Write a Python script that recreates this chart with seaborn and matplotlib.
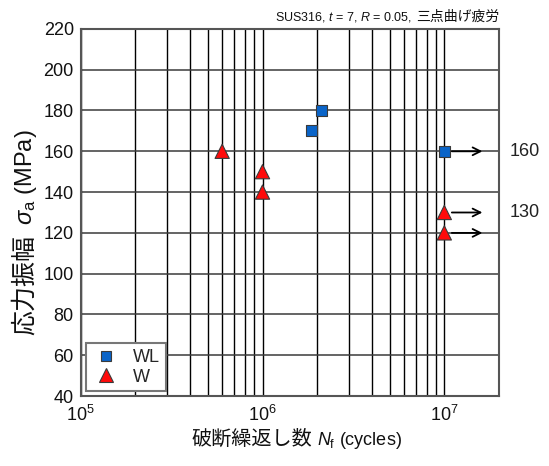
import matplotlib
matplotlib.use("Agg")
import matplotlib.pyplot as plt
import matplotlib.transforms as mtransforms
from matplotlib.lines import Line2D
from matplotlib.ticker import LogLocator, NullFormatter, MultipleLocator
import numpy as np
import pandas as pd
import seaborn as sns

# Fatigue test results (cycles to failure, stress amplitude)
wl_cycles = [1.85e6, 2.12e6, 1.0e7]
wl_stress = [170, 180, 160]
wl_runout = [False, False, True]

w_cycles = [6.0e5, 1.0e6, 1.0e6, 1.0e7, 1.0e7]
w_stress = [160, 150, 140, 130, 120]
w_runout = [False, False, False, True, True]

series_names = ["WL", "W"]
runout_labels = [160, 130]

sns.set_theme(style="white")
plt.rcParams["font.family"] = ["Liberation Sans", "Noto Sans CJK JP", "DejaVu Sans"]
plt.rcParams["mathtext.fontset"] = "custom"
plt.rcParams["mathtext.rm"] = "Liberation Sans"
plt.rcParams["mathtext.it"] = "Liberation Sans:italic"
plt.rcParams["mathtext.bf"] = "Liberation Sans:bold"
plt.rcParams["axes.unicode_minus"] = False

TXT = "#111111"
FS = 13

df = pd.DataFrame({
    "cycles": wl_cycles + w_cycles,
    "stress": wl_stress + w_stress,
    "runout": wl_runout + w_runout,
    "series": [series_names[0]] * len(wl_cycles) + [series_names[1]] * len(w_cycles),
})

fig = plt.figure(figsize=(5.49, 4.66), dpi=100)
ax = fig.add_axes([0.147, 0.150, 0.762, 0.788])

ax.set_xscale("log")
ax.set_xlim(1e5, 2e7)
ax.set_ylim(40, 220)

# grid: decades and sub-decades in x, every 20 MPa in y
ax.xaxis.set_major_locator(LogLocator(base=10, numticks=10))
ax.xaxis.set_minor_locator(LogLocator(base=10, subs=np.arange(2, 10), numticks=20))
ax.xaxis.set_minor_formatter(NullFormatter())
ax.yaxis.set_major_locator(MultipleLocator(20))
ax.grid(True, which="major", axis="x", color="black", lw=1.0)
ax.grid(True, which="minor", axis="x", color="black", lw=1.0)
ax.grid(True, which="major", axis="y", color="#3a3a3a", lw=1.1)
ax.set_axisbelow(True)

colors = {"WL": "#0a64c8", "W": "#ff0a0a"}
sns.scatterplot(
    data=df, x="cycles", y="stress", hue="series", style="series",
    hue_order=series_names, style_order=series_names,
    palette=colors,
    markers={"WL": "s", "W": "^"},
    size="series", sizes={"WL": 62, "W": 105},
    edgecolor="#3a3a3a", linewidth=0.8, ax=ax, zorder=5, legend=False,
)

# run-out arrows
for c, s in zip(df.loc[df.runout, "cycles"], df.loc[df.runout, "stress"]):
    ax.annotate("", xy=(c * 1.62, s), xytext=(c * 1.1, s),
                arrowprops=dict(arrowstyle="->", color="black", lw=1.3,
                                mutation_scale=14, shrinkA=0, shrinkB=0),
                zorder=6)

trans = mtransforms.blended_transform_factory(ax.transAxes, ax.transData)
for v in runout_labels:
    ax.text(1.026, v, f"{v}", transform=trans, ha="left", va="center",
            fontsize=FS, color="#222222", clip_on=False)

# legend
handles = [
    Line2D([], [], ls="none", marker="s", ms=7.9, mfc=colors["WL"], mec="#3a3a3a", mew=0.8),
    Line2D([], [], ls="none", marker="^", ms=10.2, mfc=colors["W"], mec="#3a3a3a", mew=0.8),
]
leg = ax.legend(handles, series_names, loc="lower left", bbox_to_anchor=(0.013, 0.014),
                borderaxespad=0, fancybox=False, framealpha=1, edgecolor="#777777",
                fontsize=FS, handletextpad=0.7, borderpad=0.3, labelspacing=0.15,
                handlelength=1.6)
leg.get_frame().set_linewidth(1.5)
leg.set_zorder(10)

for sp in ax.spines.values():
    sp.set_color("#555555")
    sp.set_linewidth(1.5)

ax.tick_params(axis="both", which="major", direction="in", length=5, width=1.2,
               color="#333333", labelsize=FS, labelcolor=TXT)
ax.tick_params(axis="y", which="major", pad=5)
ax.tick_params(axis="x", which="major", pad=6)
ax.tick_params(axis="x", which="minor", direction="in", length=0)
ax.set_xlabel("")
ax.set_ylabel("")

# x-axis label: Japanese part, then the symbol part on the same baseline
x_base = 0.045
xl_jp = fig.text(0.568, x_base, "破断繰返し数", ha="right", va="baseline",
                 fontsize=14.5, color=TXT)
ax.annotate("$N_\\mathrm{f}$ (cycles)", xy=(1, x_base), xycoords=(xl_jp, "figure fraction"),
            xytext=(4, 0), textcoords="offset points", ha="left", va="baseline",
            fontsize=FS, color=TXT, annotation_clip=False)

# y-axis label, written upward along a shared baseline
y_base = 0.0574
yl_jp = fig.text(y_base, 0.281, "応力振幅", rotation=90, rotation_mode="anchor",
                 ha="left", va="baseline", fontsize=18, color=TXT)
ax.annotate("$\\sigma_\\mathrm{a}$ (MPa)", xy=(y_base, 1), xycoords=("figure fraction", yl_jp),
            xytext=(0, 7), textcoords="offset points", rotation=90, rotation_mode="anchor",
            ha="left", va="baseline", fontsize=17, color=TXT, annotation_clip=False)

# test condition note above the plot
t_jp = ax.text(1.0, 1.022, "三点曲げ疲労", transform=ax.transAxes, ha="right",
               va="baseline", fontsize=10, color=TXT)
ax.annotate("SUS316, $t$ = 7, $R$ = 0.05,", xy=(0, 1.022), xycoords=(t_jp, "axes fraction"),
            xytext=(-3, 0), textcoords="offset points", ha="right", va="baseline",
            fontsize=9, color=TXT, annotation_clip=False)

fig.savefig("out.png", dpi=100)
